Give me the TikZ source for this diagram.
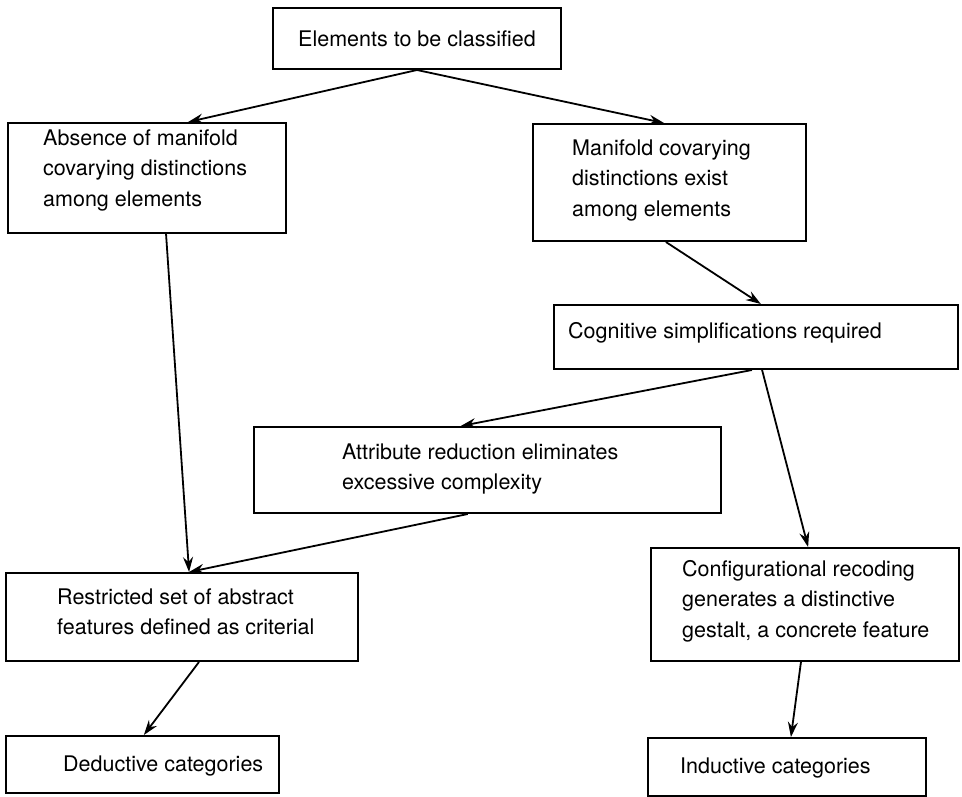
\documentclass[tikz,border=0pt]{standalone}
\usepackage{fontspec}
\setmainfont{TeX Gyre Heros}
\usetikzlibrary{arrows.meta,calc}

\tikzset{
  box/.style={draw=black, line width=2pt, inner sep=0pt, anchor=north west},
  txt/.style={inner sep=0pt, align=left, anchor=west,
              font=\fontsize{21.5}{30.5}\selectfont},
  arr/.style={line width=1.8pt, -{Stealth[length=15pt,width=10pt,inset=5pt]}},
}

\begin{document}
\begin{tikzpicture}[x=1pt,y=-1pt]
\useasboundingbox (0,0) rectangle (962,797);

% frames
\node[box, minimum width=288pt, minimum height=61pt]  (b1) at (272,7)   {};
\node[box, minimum width=278pt, minimum height=110pt] (b2) at (7,122)   {};
\node[box, minimum width=273pt, minimum height=117pt] (b3) at (532,123) {};
\node[box, minimum width=404pt, minimum height=64pt]  (b4) at (553,304) {};
\node[box, minimum width=467pt, minimum height=86pt]  (b5) at (253,426) {};
\node[box, minimum width=352pt, minimum height=88pt]  (b6) at (5,572)   {};
\node[box, minimum width=308pt, minimum height=113pt] (b7) at (650,547) {};
\node[box, minimum width=273pt, minimum height=57pt]  (b8) at (5,735)   {};
\node[box, minimum width=278pt, minimum height=58pt]  (b9) at (647,737) {};

% labels
\node[txt, anchor=center] (t1) at (b1.center) {Elements to be classified};
\node[txt] (t2) at (43,170)  {Absence of manifold\\covarying distinctions\\among elements};
\node[txt] (t3) at (572,180) {Manifold covarying\\distinctions exist\\among elements};
\node[txt] (t4) at (568,333) {Cognitive simplifications required};
\node[txt] (t5) at (342,469) {Attribute reduction eliminates\\excessive complexity};
\node[txt] (t6) at (57,612)  {Restricted set of abstract\\features defined as criterial};
\node[txt] (t7) at (682,601) {Configurational recoding\\generates a distinctive\\gestalt, a concrete feature};
\node[txt] (t8) at (63,766)  {Deductive categories};
\node[txt] (t9) at (680,768) {Inductive categories};

% connectors
\draw[arr] (b1.south) -- ($(b2.north west)!.647!(b2.north east)$);
\draw[arr] (b1.south) -- ($(b3.north west)!.48!(b3.north east)$);
\draw[arr] ($(b3.south west)!.487!(b3.south east)$) -- ($(b4.north west)!.512!(b4.north east)$);
\draw[arr] ($(b4.south west)!.49!(b4.south east)$) -- ($(b5.north west)!.443!(b5.north east)$);
\draw[arr] ($(b4.south west)!.515!(b4.south east)$) -- ($(b7.north west)!.51!(b7.north east)$);
\draw[arr] ($(b2.south west)!.568!(b2.south east)$) -- ($(b6.north west)!.52!(b6.north east)$);
\draw[arr] ($(b5.south west)!.458!(b5.south east)$) -- ($(b6.north west)!.52!(b6.north east)$);
\draw[arr] ($(b6.south west)!.548!(b6.south east)$) -- ($(b8.north west)!.505!(b8.north east)$);
\draw[arr] ($(b7.south west)!.487!(b7.south east)$) -- ($(b9.north west)!.514!(b9.north east)$);
\end{tikzpicture}
\end{document}
